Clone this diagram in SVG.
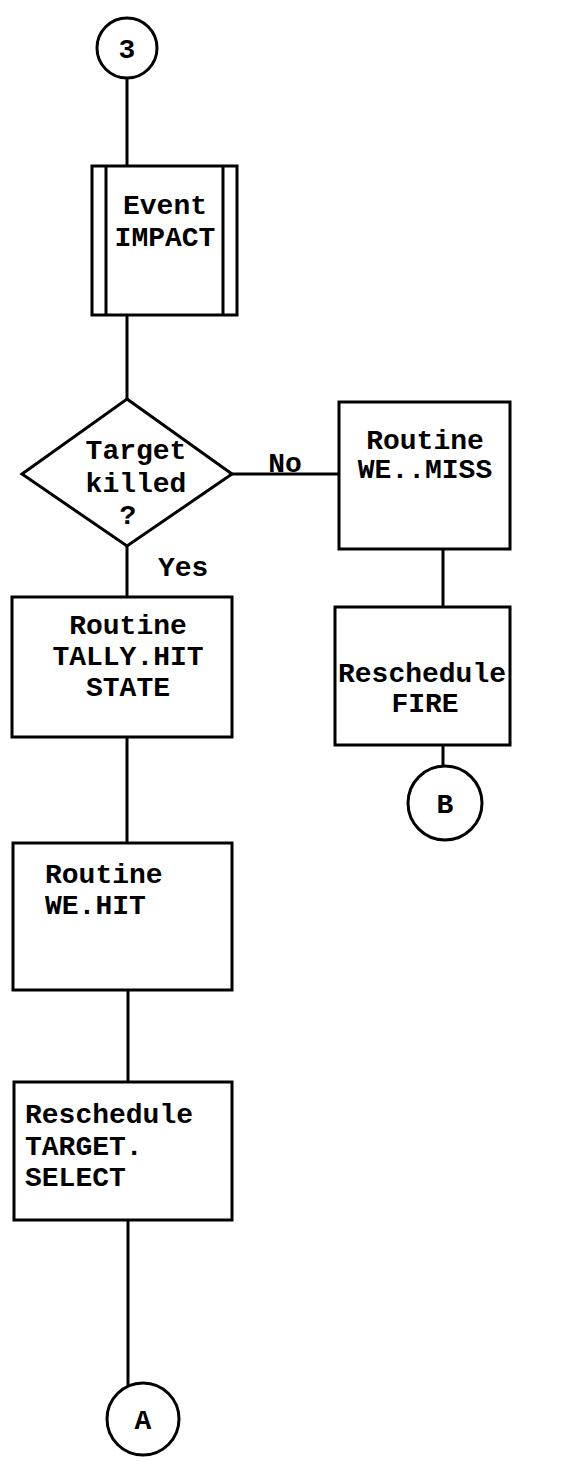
<svg xmlns="http://www.w3.org/2000/svg" width="566" height="1461" viewBox="0 0 566 1461">
<style>
.s{fill:none;stroke:#000;stroke-width:3}
.b{fill:#fff;stroke:#000;stroke-width:3}
.t{font-family:"Liberation Mono","Courier New",monospace;font-size:28px;font-weight:bold;fill:#000}
.c{text-anchor:middle}
</style>
<rect width="566" height="1461" fill="#fff"/>
<g id="connectors">
<line class="s" x1="127" y1="78" x2="127" y2="166"/>
<line class="s" x1="127" y1="315" x2="127" y2="399"/>
<line class="s" x1="232" y1="474" x2="339" y2="474"/>
<line class="s" x1="443" y1="549" x2="443" y2="607"/>
<line class="s" x1="443" y1="745" x2="443" y2="766"/>
<line class="s" x1="127" y1="546" x2="127" y2="597"/>
<line class="s" x1="127" y1="737" x2="127" y2="843"/>
<line class="s" x1="128" y1="990" x2="128" y2="1082"/>
<line class="s" x1="128" y1="1220" x2="128" y2="1387"/>
<text class="t c" x="285" y="472">No</text>
<text class="t" x="158" y="576">Yes</text>
</g>
<g id="start3">
<circle class="b" cx="127" cy="48" r="30"/>
<text class="t c" x="127" y="58">3</text>
</g>
<g id="eventImpact">
<rect class="b" x="92" y="166" width="145" height="149"/>
<line class="s" x1="106" y1="166" x2="106" y2="315"/>
<line class="s" x1="223" y1="166" x2="223" y2="315"/>
<text class="t c" x="165" y="214">Event</text>
<text class="t c" x="165" y="246">IMPACT</text>
</g>
<g id="decision">
<polygon class="b" points="127,399 232,474 127,546 22,474"/>
<text class="t c" x="136" y="459">Target</text>
<text class="t c" x="136" y="492">killed</text>
<text class="t c" x="128" y="524">?</text>
</g>
<g id="weMiss">
<rect class="b" x="339" y="402" width="171" height="147"/>
<text class="t c" x="425" y="449">Routine</text>
<text class="t c" x="425" y="478">WE..MISS</text>
</g>
<g id="fire">
<rect class="b" x="335" y="607" width="175" height="138"/>
<text class="t" x="338" y="682">Reschedule</text>
<text class="t c" x="425" y="712">FIRE</text>
</g>
<g id="endB">
<circle class="b" cx="445" cy="803" r="37"/>
<text class="t c" x="445" y="813">B</text>
</g>
<g id="tallyHit">
<rect class="b" x="12" y="597" width="220" height="140"/>
<text class="t c" x="128" y="634">Routine</text>
<text class="t c" x="128" y="665">TALLY.HIT</text>
<text class="t c" x="128" y="696">STATE</text>
</g>
<g id="weHit">
<rect class="b" x="13" y="843" width="219" height="147"/>
<text class="t" x="45" y="883">Routine</text>
<text class="t" x="45" y="914">WE.HIT</text>
</g>
<g id="targetSelect">
<rect class="b" x="14" y="1082" width="218" height="138"/>
<text class="t" x="25" y="1123">Reschedule</text>
<text class="t" x="25" y="1155">TARGET.</text>
<text class="t" x="25" y="1186">SELECT</text>
</g>
<g id="endA">
<circle class="b" cx="143" cy="1419" r="36"/>
<text class="t c" x="143" y="1429">A</text>
</g>
</svg>
